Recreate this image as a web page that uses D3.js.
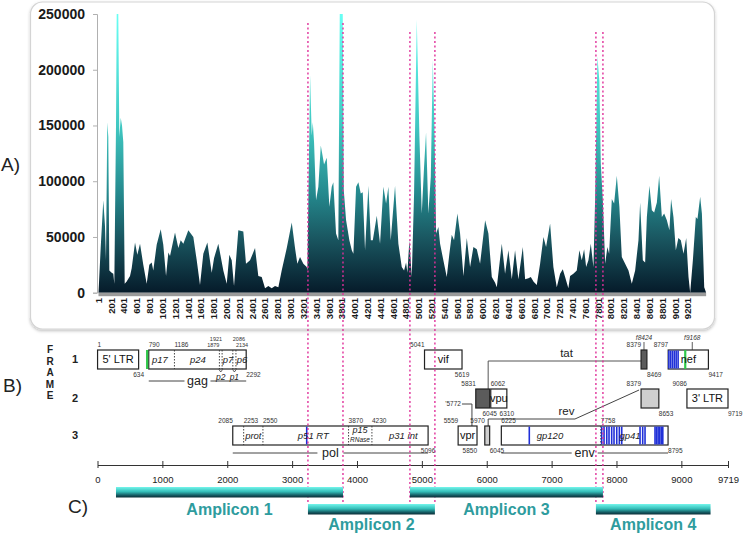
<!DOCTYPE html>
<html><head><meta charset="utf-8">
<script src="https://cdn.jsdelivr.net/npm/d3@7"></script>
<style>body{margin:0;background:#fff}svg{display:block;font-family:"Liberation Sans",Arial,Helvetica,sans-serif}</style>
</head><body><svg id="c" width="746" height="534"></svg>
<script>
// ---------- DATA ----------
const covPos = [1,35,76,102,118,138,154,170,207,232,248,274,285,310,326,348,368,388,410,441,493,519,571,607,649,700,753,794,831,856,909,972,1012,1055,1091,1117,1195,1247,1284,1325,1403,1481,1534,1585,1637,1700,1768,1804,1871,1949,2002,2043,2080,2116,2183,2261,2303,2366,2444,2495,2548,2600,2652,2704,2756,2808,2860,2939,3017,3068,3104,3146,3198,3251,3261,3303,3329,3345,3365,3396,3432,3470,3501,3521,3563,3604,3641,3666,3708,3744,3766,3813,3829,3865,3916,3954,3979,4021,4057,4094,4125,4161,4213,4251,4282,4344,4395,4447,4489,4525,4562,4629,4681,4734,4770,4801,4822,4853,4890,4926,4968,5009,5046,5082,5113,5149,5187,5218,5243,5270,5305,5332,5383,5436,5477,5514,5550,5602,5644,5696,5749,5800,5852,5905,5956,6035,6086,6139,6191,6217,6295,6346,6398,6451,6502,6554,6623,6659,6711,6748,6789,6841,6893,6945,6986,7049,7100,7153,7205,7247,7283,7334,7361,7412,7465,7506,7543,7580,7611,7647,7684,7725,7751,7787,7818,7840,7872,7908,7943,7970,8012,8048,8090,8130,8168,8220,8272,8324,8376,8428,8454,8496,8532,8559,8599,8637,8673,8715,8751,8793,8829,8871,8911,8937,8974,9011,9051,9089,9131,9173,9209,9235,9277,9323,9349,9391,9418,9454,9484];
const covDepth = [0,40000,83000,60000,29000,153000,140000,20000,18000,17000,8000,150000,250000,250000,140000,157000,150000,135000,8000,10000,15000,22000,45000,34000,44000,25000,8000,25000,27000,20000,43000,57000,43000,15000,36000,33000,54000,40000,47000,44000,56000,50000,29000,7000,35000,45000,18000,31000,44000,20000,8000,34000,29000,6000,56000,55000,26000,29000,40000,15000,14000,4000,6000,4000,6000,5000,20000,40000,63000,40000,26000,32000,26000,23000,20000,195000,141000,153000,135000,83000,95000,132000,122000,115000,121000,77000,95000,99000,53000,47000,250000,250000,92000,65000,47000,38000,35000,95000,99000,89000,90000,38000,96000,47000,47000,69000,44000,95000,80000,95000,47000,96000,44000,23000,20000,27000,18000,47000,14000,89000,245000,141000,71000,113000,144000,71000,104000,209000,152000,53000,59000,44000,29000,14000,35000,52000,47000,71000,53000,15000,49000,23000,41000,39000,26000,65000,53000,14000,9000,5000,44000,17000,38000,12000,38000,12000,41000,12000,13000,14000,10000,7000,26000,50000,41000,62000,23000,5000,17000,21000,14000,4000,15000,17000,20000,38000,29000,39000,23000,29000,44000,23000,83000,212000,190000,116000,83000,26000,41000,35000,84000,80000,105000,77000,32000,26000,20000,8000,20000,47000,81000,29000,27000,68000,96000,74000,72000,81000,105000,68000,71000,65000,56000,84000,68000,38000,49000,47000,35000,49000,14000,0,29000,68000,66000,86000,71000,5000,0];
const depthTicks = [0,50000,100000,150000,200000,250000];
const positionTicks = d3.range(1, 9202, 200);
const genomeTicks = [0,1000,2000,3000,4000,5000,6000,7000,8000,9000,9719];
const primerSites = [3244,3784,4816,5201,7683,7791];
const ampliconNames = ["Amplicon 1","Amplicon 2","Amplicon 3","Amplicon 4"];
const ampliconStart = [285,3244,4816,7683];
const ampliconEnd = [3784,5201,7791,9450];
const ampliconRow = [0,1,0,1];

const geneStart = [1,790,5041,8379,8797,5831,6062,8379,9086,2085,5559,5970,6225];
const geneEnd   = [634,2292,5619,8469,9417,6045,6310,8653,9719,5096,5850,6045,8795];
const geneFrame = [1,1,1,1,1,2,2,2,2,3,3,3,3];
const geneText  = ["5' LTR","","vif","","nef","","vpu","","3' LTR","","vpr","",""];
const geneKind  = ["open","open","open","dark","open","dark","open","light","open","open","open","light","open"];

const dividerPos = [1186,1879,1921,2086,2134,2253,2550,3870,4230,7758];
const dividerFrame = [1,1,1,1,1,3,3,3,3,3];
const proteinText = ["p17","p24","p7","p6","prot","p51 RT","p15","p31 int","gp120","gp41"];
const proteinPos  = [963,1549,2012,2228,2402,3327,4047,4714,6975,8209];
const proteinFrame = [1,1,1,1,3,3,3,3,3,3];
const cleavageText = ["p2","p1"];
const cleavagePos = [1900,2110];
const bluePos = [3225,6656,7772,7808,7850,7885,7926,7962,8004,8044,8081,8363,8404,8440,8594,8618,8642,8666,8690,8714,8808,8836,8864,8892,8920,8950];
const blueFrame = [3,3,3,3,3,3,3,3,3,3,3,3,3,3,3,3,3,3,3,3,1,1,1,1,1,1];
const greenPos = [765,9060];
const polyName = ["gag","pol","env"];
const polyStart = [790,2085,6225];
const polyEnd = [2292,5096,8795];
const polyFrame = [1,3,3];

const coordText  = ["1","634","790","1186","1879","1921","2086","2134","2292","5041","5619","8379","8469","8797","9417","5831","6062","6045","6310","8379","8653","9086","9719","2085","2253","2550","3870","4230","5096","5559","5970","5850","6045","6225","7758","8795"];
const coordPos   = [1,634,790,1186,1879,1921,2086,2134,2292,5041,5619,8379,8469,8797,9417,5831,6062,6045,6310,8379,8653,9086,9719,2085,2253,2550,3870,4230,5096,5559,5970,5850,6045,6225,7758,8795];
const coordFrame = [1,1,1,1,1,1,1,1,1,1,1,1,1,1,1,2,2,2,2,2,2,2,2,3,3,3,3,3,3,3,3,3,3,3,3,3];
const coordSide  = ["a","b","a","a","a","a2","a2","a","b","a","b","a","b","a","b","a","a","b","b","a","b","a","b","a","a","a","a","a","b","a","a","b","b","a","a","b"];
const coordAnchor= ["start","middle","start","start","end","end","start","start","start","end","middle","end","start","end","start","end","start","middle","middle","end","start","end","start","end","start","start","start","start","middle","end","end","end","start","start","start","start"];
const frameSiteText = ["f8424","f9168"];
const frameSitePos = [8424,9168];
const tatExons = [6045,8379];
const revExons = [6045,8379];
const vprShift = 5772;

// ---------- LAYOUT ----------
const svg = d3.select("#c");
const defs = svg.append("defs");
const xTop = d3.scaleLinear().domain([1,9201]).range([98.5,688]);
const yTop = d3.scaleLinear().domain([0,250000]).range([292.7,14]);
const xG = d3.scaleLinear().domain([0,9719]).range([97.5,728]);
const rowTop = {1:350,2:389,3:426};
const boxH = 19;

const ga = defs.append("linearGradient").attr("id","gA").attr("gradientUnits","userSpaceOnUse")
  .attr("x1",0).attr("x2",0).attr("y1",yTop(250000)).attr("y2",yTop(0));
[[0,"#68fff4"],[0.4,"#40c8c2"],[0.65,"#24878c"],[0.8,"#1a5862"],[1,"#061b2a"]].forEach(s=>ga.append("stop").attr("offset",s[0]).attr("stop-color",s[1]));
const gb = defs.append("linearGradient").attr("id","gB").attr("x1",0).attr("x2",0).attr("y1",0).attr("y2",1);
[[0,"#74f6ec"],[0.45,"#33bdb8"],[0.8,"#145860"],[1,"#0a2d36"]].forEach(s=>gb.append("stop").attr("offset",s[0]).attr("stop-color",s[1]));
const sh = defs.append("filter").attr("id","sh").attr("x",-0.05).attr("y",-0.05).attr("width",1.1).attr("height",1.1);
sh.append("feDropShadow").attr("dx",0).attr("dy",1.5).attr("stdDeviation",1.5).attr("flood-color","#000").attr("flood-opacity",0.25);

// Panel A frame
svg.append("rect").attr("x",30.5).attr("y",2).attr("width",684).attr("height",327).attr("rx",12)
  .attr("fill","#fff").attr("stroke","#d4d4d4").attr("stroke-width",1.2).attr("filter","url(#sh)");

// area chart
const area = d3.area().x((d,i)=>xTop(covPos[i])).y0(yTop(0)).y1(d=>yTop(Math.min(d,250000)));
svg.append("path").datum(covDepth).attr("d",area).attr("fill","url(#gA)");
svg.append("rect").attr("x",xTop(1)).attr("y",yTop(0)).attr("width",xTop(covPos[covPos.length-1])-xTop(1)).attr("height",3.5).attr("fill","#9a9a9a");

// y axis
const ya = svg.append("g").attr("transform","translate(97,0)").call(d3.axisLeft(yTop).tickValues(depthTicks).tickSize(4).tickFormat(d3.format("d")));
ya.select(".domain").attr("stroke","#b0b0b0");
ya.selectAll(".tick line").attr("stroke","#b0b0b0");
ya.selectAll("text").attr("font-size",14).attr("font-weight","bold").attr("fill","#1a1a1a").attr("font-family","Liberation Sans, Arial").attr("x",-12);

// x labels (rotated)
svg.append("g").selectAll("text").data(positionTicks).join("text")
  .attr("transform",d=>`translate(${xTop(d)},298) rotate(-90)`)
  .attr("text-anchor","end").attr("dy","0.35em").attr("font-size",9.5).attr("font-weight","bold").attr("fill","#1a1a1a")
  .text(d=>d);

// panel labels
svg.append("text").attr("x",1).attr("y",171).attr("font-size",19).attr("fill","#222").text("A)");
svg.append("text").attr("x",3).attr("y",392).attr("font-size",19).attr("fill","#222").text("B)");
svg.append("text").attr("x",68).attr("y",513).attr("font-size",19).attr("fill","#222").text("C)");
"FRAME".split("").forEach((ch,i)=>svg.append("text").attr("x",50).attr("y",353+i*11.5).attr("text-anchor","middle").attr("font-size",10).attr("font-weight","bold").attr("fill","#222").text(ch));
[1,2,3].forEach(f=>svg.append("text").attr("x",75).attr("y",rowTop[f]+boxH/2).attr("dy","0.35em").attr("text-anchor","middle").attr("font-size",11).attr("font-weight","bold").attr("fill","#222").text(f));

// genome map
const gm = svg.append("g");
polyName.forEach((n,i)=>{
  const y = polyFrame[i]===1 ? rowTop[1]+boxH+12 : rowTop[3]+boxH+8;
  const mid = (xG(polyStart[i])+xG(polyEnd[i]))/2;
  gm.append("line").attr("x1",xG(polyStart[i])).attr("x2",mid-13).attr("y1",y).attr("y2",y).attr("stroke","#444").attr("stroke-width",1);
  gm.append("line").attr("x1",mid+13).attr("x2",xG(polyEnd[i])).attr("y1",y).attr("y2",y).attr("stroke","#444").attr("stroke-width",1);
  gm.append("text").attr("x",mid).attr("y",y).attr("dy","0.33em").attr("text-anchor","middle").attr("font-size",12.5).attr("fill","#222").text(n);
});
// tat connector
const tatY = rowTop[1]+11;
gm.append("path").attr("d",`M${xG(tatExons[0])-1.5},${rowTop[2]} V${tatY} H${xG(tatExons[1])}`).attr("fill","none").attr("stroke","#555").attr("stroke-width",1);
gm.append("text").attr("x",xG(7230)).attr("y",tatY-4).attr("text-anchor","middle").attr("font-size",11.5).attr("fill","#222").text("tat");
// rev connector
const revY = rowTop[3]-7;
gm.append("path").attr("d",`M${xG(revExons[0])-1.5},${rowTop[3]} V${revY} H${xG(7360)} L${xG(revExons[1])-2},${rowTop[2]+1}`).attr("fill","none").attr("stroke","#444").attr("stroke-width",1);
gm.append("text").attr("x",xG(7230)).attr("y",revY-4).attr("text-anchor","middle").attr("font-size",11.5).attr("fill","#222").text("rev");
// vpr shift marker
gm.append("path").attr("d",`M${xG(vprShift)-10},${rowTop[3]-22} H${xG(vprShift)} V${rowTop[3]}`).attr("fill","none").attr("stroke","#444").attr("stroke-width",1);
gm.append("text").attr("x",xG(vprShift)-11).attr("y",rowTop[3]-22).attr("dy","0.35em").attr("text-anchor","end").attr("font-size",6.5).attr("fill","#333").text("'"+vprShift);

// boxes
const fills = {open:"#fff",dark:"#5b5b5b",light:"#cfcfcf"};
geneStart.forEach((s,i)=>{
  const f = geneFrame[i];
  gm.append("rect").attr("x",xG(s)).attr("y",rowTop[f]).attr("width",xG(geneEnd[i])-xG(s)).attr("height",boxH)
    .attr("fill",fills[geneKind[i]]).attr("stroke","#222").attr("stroke-width",1.2);
});
bluePos.forEach((p,i)=>gm.append("line").attr("x1",xG(p)).attr("x2",xG(p)).attr("y1",rowTop[blueFrame[i]]+0.6).attr("y2",rowTop[blueFrame[i]]+boxH-0.6).attr("stroke","#2030d8").attr("stroke-width",1.6));
greenPos.forEach(p=>gm.append("line").attr("x1",xG(p)).attr("x2",xG(p)).attr("y1",rowTop[1]).attr("y2",rowTop[1]+boxH).attr("stroke","#2fc84a").attr("stroke-width",2.2));
dividerPos.forEach((p,i)=>gm.append("line").attr("x1",xG(p)).attr("x2",xG(p)).attr("y1",rowTop[dividerFrame[i]]).attr("y2",rowTop[dividerFrame[i]]+boxH).attr("stroke","#333").attr("stroke-width",0.9).attr("stroke-dasharray","1.5,1.5"));
geneText.forEach((t,i)=>{ if(!t) return;
  gm.append("text").attr("x",(xG(geneStart[i])+xG(geneEnd[i]))/2).attr("y",rowTop[geneFrame[i]]+boxH/2).attr("dy","0.35em").attr("text-anchor","middle").attr("font-size",11).attr("fill","#111").text(t);
});
proteinText.forEach((t,i)=>{
  const y = rowTop[proteinFrame[i]]+boxH/2;
  if(t==="p15"){
    gm.append("text").attr("x",xG(proteinPos[i])).attr("y",y-3).attr("text-anchor","middle").attr("font-size",9).attr("font-style","italic").attr("fill","#222").text(t);
    gm.append("text").attr("x",xG(proteinPos[i])).attr("y",y+6.5).attr("text-anchor","middle").attr("font-size",6.5).attr("font-style","italic").attr("fill","#222").text("RNase");
  } else {
    gm.append("text").attr("x",xG(proteinPos[i])).attr("y",y).attr("dy","0.35em").attr("text-anchor","middle").attr("font-size",9.5).attr("font-style","italic").attr("fill","#222").text(t);
  }
});
// p2 / p1 cleavage products below gag
cleavageText.forEach((t,i)=>{
  const x = xG(cleavagePos[i]), yb = rowTop[1]+boxH;
  gm.append("path").attr("d",`M${x-1.8},${yb+0.5} L${x},${yb+3} L${x+1.8},${yb+0.5}`).attr("fill","none").attr("stroke","#222").attr("stroke-width",0.7);
  gm.append("text").attr("x",x).attr("y",yb+10.5).attr("text-anchor","middle").attr("font-size",8.5).attr("font-style","italic").attr("fill","#222").text(t);
});
// coordinate labels
coordText.forEach((t,i)=>{
  const f = coordFrame[i], s = coordSide[i];
  const y = s==="a" ? rowTop[f]-3 : s==="a2" ? rowTop[f]-9 : rowTop[f]+boxH+7.5;
  const small = f===1 && coordPos[i]>=1879 && coordPos[i]<=2134;
  gm.append("text").attr("x",xG(coordPos[i])).attr("y",y).attr("text-anchor",coordAnchor[i]).attr("font-size",small?5.5:6.5).attr("fill","#333").text(t);
});
frameSiteText.forEach((t,i)=>{
  gm.append("text").attr("x",xG(frameSitePos[i])).attr("y",rowTop[1]-10).attr("text-anchor","middle").attr("font-size",6.5).attr("font-style","italic").attr("fill","#333").text(t);
  gm.append("line").attr("x1",xG(frameSitePos[i])).attr("x2",xG(frameSitePos[i])).attr("y1",rowTop[1]-8).attr("y2",rowTop[1]).attr("stroke","#333").attr("stroke-width",0.8);
});

// genome axis
const axG = svg.append("g").attr("transform","translate(0,465)").call(d3.axisBottom(xG).tickValues(genomeTicks).tickSize(0).tickFormat(d=>d));
axG.select(".domain").attr("stroke","#333").attr("stroke-width",1);
axG.selectAll(".tick line").attr("y1",-4).attr("y2",3).attr("stroke","#333");
axG.selectAll("text").attr("y",11).attr("font-size",9.5).attr("fill","#222").attr("font-family","Liberation Sans, Arial");

// primer lines
const primerTop = [23,23,32,32,32,32];
primerSites.forEach((p,i)=>svg.append("line").attr("x1",xG(p)).attr("x2",xG(p)).attr("y1",primerTop[i]).attr("y2",504)
  .attr("stroke","#e0309a").attr("stroke-width",1.4).attr("stroke-dasharray","2,2.5"));

// amplicons
const rowY = [487,504];
ampliconNames.forEach((n,i)=>{
  const x0 = xG(ampliconStart[i]), x1 = xG(ampliconEnd[i]);
  svg.append("rect").attr("x",x0).attr("y",rowY[ampliconRow[i]]).attr("width",x1-x0).attr("height",10.5).attr("fill","url(#gB)");
  svg.append("text").attr("x",(x0+x1)/2).attr("y",ampliconRow[i]?530:515).attr("text-anchor","middle").attr("font-size",16).attr("font-weight","bold").attr("fill","#2e9c9e").text(n);
});
</script></body></html>
